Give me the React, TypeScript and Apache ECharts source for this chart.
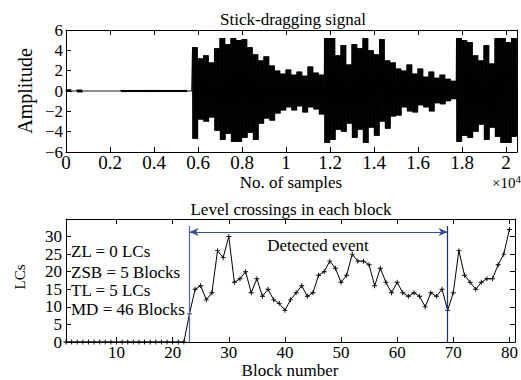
import React, { useEffect, useRef } from "react";
import * as echarts from "echarts";

// ---------- Data ----------
// Top panel: stick-dragging signal, read as an envelope (max / min amplitude) per bin of 250 samples
const BIN = 250;
const envelopeUpper = [
  0.15, 0, 0.12, 0, 0, 0, 0, 0, 0, 0, 0.1, 0.1, 0.1, 0.1, 0.1, 0.1, 0.1, 0.1, 0.1, 0.1, 0.1, 0.1, 0,
  4.3, 3.2, 3.5, 2.8, 4.2, 5.2, 4.6, 5.2, 5.0, 5.1, 4.3, 3.6, 3.0, 3.4, 2.5, 2.0, 1.7, 2.1, 1.6, 1.9,
  1.5, 2.4, 1.8, 1.6, 5.2, 5.2, 3.5, 4.5, 2.6, 4.6, 4.2, 5.2, 4.0, 3.6, 5.1, 3.0, 2.8, 2.2, 2.0, 2.6,
  1.7, 2.2, 1.4, 1.9, 1.3, 1.6, 1.2, 1.0, 5.2, 5.0, 4.8, 3.5, 3.0, 4.5, 2.7, 5.2, 5.2, 4.8, 5.2,
];
const envelopeLower = [
  -0.1, 0, -0.12, 0, 0, 0, 0, 0, 0, 0, -0.1, -0.1, -0.1, -0.1, -0.1, -0.1, -0.1, -0.1, -0.1, -0.1, -0.1, -0.1, 0,
  -4.7, -2.8, -3.0, -2.6, -3.9, -4.8, -4.2, -5.0, -5.0, -4.6, -4.1, -4.8, -3.2, -2.7, -2.9, -2.2, -1.9, -1.6, -1.9, -1.5,
  -2.1, -1.6, -1.8, -2.3, -5.1, -4.8, -3.8, -4.0, -3.2, -4.6, -3.8, -5.1, -3.6, -4.4, -3.0, -3.7, -2.5, -2.4, -1.6, -2.0,
  -2.1, -1.4, -1.6, -2.0, -1.2, -1.3, -1.0, -0.8, -5.0, -4.4, -4.6, -4.0, -3.3, -4.8, -3.6, -4.5, -5.1, -5.1, -4.5,
];
const sampleTicks = [0, 2000, 4000, 6000, 8000, 10000, 12000, 14000, 16000, 18000, 20000];

// Bottom panel: level crossings per block (blocks 1..80)
const lcValues = [
  0, 0, 0, 0, 0, 0, 0, 0, 0, 0, 0, 0, 0, 0, 0, 0, 0, 0, 0, 0, 0, 0, 8,
  15, 16, 12, 14, 26, 24, 30,
  17, 18, 20, 14, 18, 13, 15, 12, 11, 9,
  12, 14, 16, 13, 14, 19, 20, 23, 21, 17,
  19, 25, 23, 23, 22, 16, 21, 17, 14, 17,
  14, 13, 14, 13, 10, 14, 13, 15, 9, 14,
  26, 19, 17, 15, 17, 18, 18, 22, 25, 32,
];
const blockTicks = [10, 20, 30, 40, 50, 60, 70, 80];
const eventStart = 23;
const eventEnd = 69;
const annotations = ["ZL = 0 LCs", "ZSB = 5 Blocks", "TL = 5 LCs", "MD = 46 Blocks"];

// ---------- Chart ----------
const serif = '"Liberation Serif", "Times New Roman", Times, serif';
const fmtMinus = (v: number) => (v < 0 ? "\u2212" + String(-v) : String(v));
const txt = (size: number) => ({ fontFamily: serif, fontSize: size, fill: "#000" });

function buildOption() {
  const SUB = 14;
  const signal: [number, number][] = [];
  for (let i = 0; i < envelopeUpper.length; i++) {
    const s = i * BIN;
    for (let k = 0; k < SUB; k++) {
      signal.push([s + (k * BIN) / SUB, k % 2 === 0 ? envelopeUpper[i] : envelopeLower[i]]);
    }
  }
  const lcData = lcValues.map((v, i) => [i + 1, v]);

  const boxAxisLine = { show: true, onZero: false, lineStyle: { color: "#000", width: 1 } };
  const tick = { show: true, inside: true, length: 5, lineStyle: { color: "#000", width: 1 } };
  const blue = "#3a4aa5";

  return {
    animation: false,
    backgroundColor: "#fff",
    textStyle: { fontFamily: serif },
    grid: [
      { left: 66, top: 30, width: 451, height: 122 },
      { left: 66, top: 219, width: 449, height: 123 },
    ],
    xAxis: [
      {
        type: "value", gridIndex: 0, min: 0, max: 20500, position: "bottom",
        axisLine: boxAxisLine,
        axisTick: { ...tick, customValues: sampleTicks },
        axisLabel: {
          customValues: sampleTicks, fontFamily: serif, fontSize: 19, color: "#000", margin: 1,
          formatter: (v: number) => String(+(v / 10000).toFixed(1)),
        },
        splitLine: { show: false },
      },
      {
        type: "value", gridIndex: 0, min: 0, max: 20500, position: "top",
        axisLine: boxAxisLine, axisTick: { ...tick, customValues: sampleTicks },
        axisLabel: { show: false }, splitLine: { show: false },
      },
      {
        type: "value", gridIndex: 1, min: 1, max: 81, position: "bottom",
        axisLine: boxAxisLine,
        axisTick: { ...tick, customValues: blockTicks },
        axisLabel: { customValues: blockTicks, fontFamily: serif, fontSize: 17, color: "#000", margin: 2 },
        splitLine: { show: false },
      },
      {
        type: "value", gridIndex: 1, min: 1, max: 81, position: "top",
        axisLine: boxAxisLine, axisTick: { ...tick, customValues: blockTicks },
        axisLabel: { show: false }, splitLine: { show: false },
      },
    ],
    yAxis: [
      {
        type: "value", gridIndex: 0, min: -6, max: 6, interval: 2, position: "left",
        axisLine: boxAxisLine, axisTick: tick,
        axisLabel: { fontFamily: serif, fontSize: 17, color: "#000", margin: 3, formatter: fmtMinus },
        splitLine: { show: false },
      },
      {
        type: "value", gridIndex: 0, min: -6, max: 6, interval: 2, position: "right",
        axisLine: boxAxisLine, axisTick: tick, axisLabel: { show: false }, splitLine: { show: false },
      },
      {
        type: "value", gridIndex: 1, min: 0, max: 35, interval: 5, position: "left",
        axisLine: boxAxisLine, axisTick: tick,
        axisLabel: { fontFamily: serif, fontSize: 17, color: "#000", margin: 4, showMaxLabel: false },
        splitLine: { show: false },
      },
      {
        type: "value", gridIndex: 1, min: 0, max: 35, interval: 5, position: "right",
        axisLine: boxAxisLine, axisTick: tick, axisLabel: { show: false }, splitLine: { show: false },
      },
    ],
    series: [
      {
        type: "line", xAxisIndex: 0, yAxisIndex: 0, data: signal, showSymbol: false, symbol: "none",
        lineStyle: { color: "#000", width: 1 }, silent: true,
      },
      {
        type: "line", xAxisIndex: 2, yAxisIndex: 2, data: lcData,
        symbol: "path://M-0.18,-1 L0.18,-1 L0.18,-0.18 L1,-0.18 L1,0.18 L0.18,0.18 L0.18,1 L-0.18,1 L-0.18,0.18 L-1,0.18 L-1,-0.18 L-0.18,-0.18 Z",
        symbolSize: 5, showAllSymbol: true,
        itemStyle: { color: "#000" }, lineStyle: { color: "#000", width: 1 }, silent: true,
        markLine: {
          silent: true, animation: false, label: { show: false },
          symbol: ["none", "none"],
          data: [
            [
              { coord: [eventStart, 0], lineStyle: { color: "#5565bf", width: 1.2, type: "solid" } },
              { coord: [eventStart, 33] },
            ],
            [
              { coord: [eventEnd, 0], lineStyle: { color: "#1c2a86", width: 1.2, type: "solid" } },
              { coord: [eventEnd, 33] },
            ],
            [
              { coord: [eventStart, 31.3], symbol: "arrow", symbolSize: [6, 9], lineStyle: { color: blue, width: 1.2, type: "solid" } },
              { coord: [eventEnd, 31.3], symbol: "arrow", symbolSize: [6, 9] },
            ],
          ],
        },
      },
    ],
    graphic: [
      { type: "text", x: 293, y: 19, style: { text: "Stick-dragging signal", ...txt(17), textAlign: "center", textVerticalAlign: "middle" } },
      { type: "text", x: 25, y: 91, rotation: Math.PI / 2, style: { text: "Amplitude", ...txt(20), textAlign: "center", textVerticalAlign: "middle" } },
      { type: "text", x: 291, y: 182, style: { text: "No. of samples", ...txt(17), textAlign: "center", textVerticalAlign: "middle" } },
      {
        type: "text", x: 492, y: 183,
        style: {
          text: "\u00d710{s|4}", ...txt(15), textAlign: "left", textVerticalAlign: "middle",
          rich: { s: { fontFamily: serif, fontSize: 11, verticalAlign: "top", padding: [0, 0, 8, 0] } },
        },
      },
      { type: "text", x: 291, y: 209, style: { text: "Level crossings in each block", ...txt(17), textAlign: "center", textVerticalAlign: "middle" } },
      { type: "text", x: 20, y: 277, rotation: Math.PI / 2, style: { text: "LCs", ...txt(15), textAlign: "center", textVerticalAlign: "middle" } },
      { type: "text", x: 290, y: 370, style: { text: "Block number", ...txt(17), textAlign: "center", textVerticalAlign: "middle" } },
      { type: "text", x: 318, y: 245, style: { text: "Detected event", ...txt(17), textAlign: "center", textVerticalAlign: "middle" } },
      ...annotations.map((t, i) => ({
        type: "text", x: 71, y: [251, 272, 290, 309][i],
        style: { text: t, ...txt(17), textAlign: "left", textVerticalAlign: "middle" },
      })),
    ],
  };
}

export default function App() {
  const ref = useRef<HTMLDivElement>(null);
  useEffect(() => {
    if (!ref.current) return;
    const chart = echarts.init(ref.current, undefined, { renderer: "svg" });
    chart.setOption(buildOption() as any);
    return () => chart.dispose();
  }, []);
  return (
    <div
      ref={ref}
      style={{ position: "fixed", left: 0, top: 0, width: 521, height: 380, background: "#fff" }}
    />
  );
}
